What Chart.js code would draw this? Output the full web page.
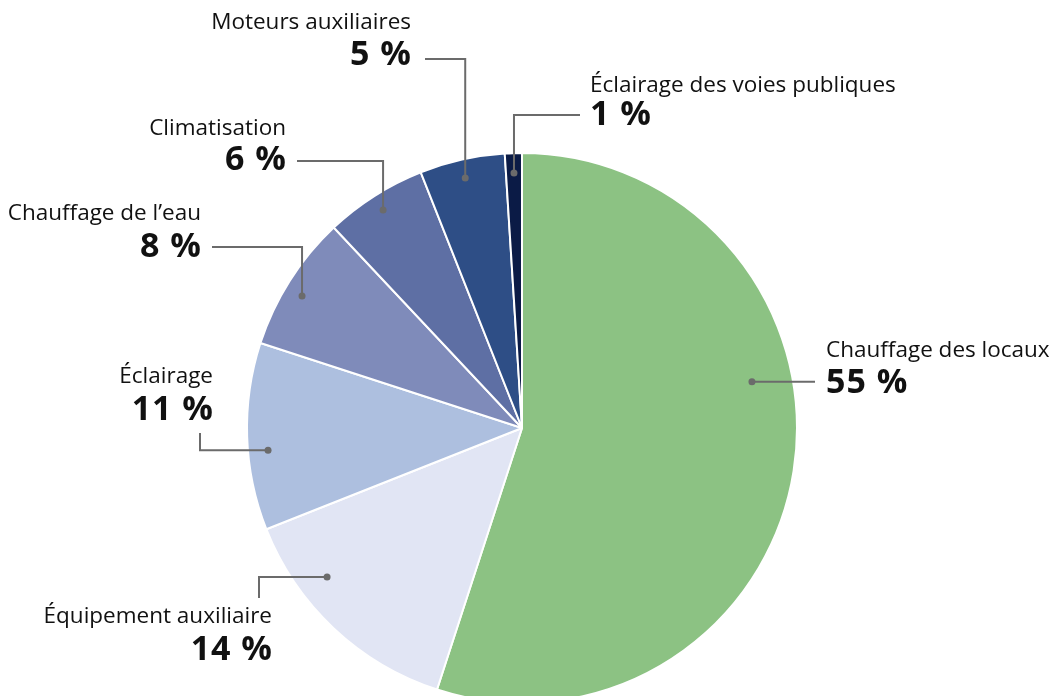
<!DOCTYPE html>
<html lang="fr">
<head>
<meta charset="utf-8">
<script src="https://cdn.jsdelivr.net/npm/chart.js@4/dist/chart.umd.min.js"></script>
<style>
  html, body { margin: 0; padding: 0; background: #ffffff; overflow: hidden; }
  #wrap { width: 1053px; height: 696px; position: relative; }
</style>
</head>
<body>
<div id="wrap"><canvas id="c" width="1053" height="696"></canvas></div>
<script>
// ---- Data ----
const categories = [
  "Chauffage des locaux",
  "Équipement auxiliaire",
  "Éclairage",
  "Chauffage de l\u2019eau",
  "Climatisation",
  "Moteurs auxiliaires",
  "Éclairage des voies publiques"
];
const shares = [55, 14, 11, 8, 6, 5, 1];
const valueLabels = ["55 %", "14 %", "11 %", "8 %", "6 %", "5 %", "1 %"];
const sliceColors = ["#8CC283", "#E1E5F4", "#ADBFDF", "#7F8BBA", "#5E6FA4", "#2E4E86", "#0B1B46"];

// ---- Label layout (annotation styling, not data) ----
const labelLayout = [
  { f: 0.397, rf: 0.853, align: "left",  x: 826, nameBase: 357, valBase: 393, route: "h",  end: [815, null] },
  { f: 0.687, rf: 0.892, align: "right", x: 272, nameBase: 623, valBase: 660, route: "hv", end: [259, 598] },
  { f: 0.419, rf: 0.927, align: "right", x: 213, nameBase: 383, valBase: 420, route: "hv", end: [200, 433] },
  { f: 0.451, rf: 0.933, align: "right", x: 201, nameBase: 220, valBase: 257, route: "vh", end: [212, 247] },
  { f: 0.495, rf: 0.940, align: "right", x: 286, nameBase: 135, valBase: 170, route: "vh", end: [297, 161] },
  { f: 0.489, rf: 0.932, align: "right", x: 411, nameBase: 29,  valBase: 65,  route: "vh", end: [425, 59] },
  { f: 0.500, rf: 0.928, align: "left",  x: 590, nameBase: 92,  valBase: 125, route: "vh", end: [580, 115] }
];

const FONT = "'Open Sans', 'Noto Sans', sans-serif";

const calloutPlugin = {
  id: "callouts",
  afterDatasetsDraw(chart) {
    const ctx = chart.ctx;
    const meta = chart.getDatasetMeta(0);
    ctx.save();
    meta.data.forEach((arc, i) => {
      const L = labelLayout[i];
      const p = arc.getProps(["x", "y", "startAngle", "endAngle", "outerRadius"], true);
      const a = p.startAngle + L.f * (p.endAngle - p.startAngle);
      const r = p.outerRadius * L.rf;
      const dx = p.x + Math.cos(a) * r;
      const dy = p.y + Math.sin(a) * r;

      ctx.strokeStyle = "#6b6b6b";
      ctx.lineWidth = 2;
      ctx.beginPath();
      ctx.moveTo(dx, dy);
      if (L.route === "h") {
        ctx.lineTo(L.end[0], dy);
      } else if (L.route === "vh") {
        ctx.lineTo(dx, L.end[1]);
        ctx.lineTo(L.end[0], L.end[1]);
      } else {
        ctx.lineTo(L.end[0], dy);
        ctx.lineTo(L.end[0], L.end[1]);
      }
      ctx.stroke();
      ctx.fillStyle = "#6b6b6b";
      ctx.beginPath();
      ctx.arc(dx, dy, 3.5, 0, Math.PI * 2);
      ctx.fill();

      ctx.fillStyle = "#111111";
      ctx.textAlign = L.align;
      ctx.textBaseline = "alphabetic";
      ctx.letterSpacing = "0px";
      ctx.font = "400 22.5px " + FONT;
      ctx.fillText(categories[i], L.x, L.nameBase);
      ctx.letterSpacing = "1px";
      ctx.font = "700 34px " + FONT;
      const vx = L.align === "right" ? L.x + 1 : L.x;
      ctx.fillText(valueLabels[i], vx, L.valBase);
    });
    ctx.restore();
  }
};

new Chart(document.getElementById("c"), {
  type: "pie",
  data: {
    labels: categories,
    datasets: [{
      data: shares,
      backgroundColor: sliceColors,
      borderColor: "#ffffff",
      borderWidth: 2,
      clip: false
    }]
  },
  options: {
    responsive: false,
    animation: false,
    radius: 275,
    rotation: 0,
    layout: { padding: { top: 160, bottom: 0, left: 0, right: 9 } },
    plugins: {
      legend: { display: false },
      tooltip: { enabled: false }
    }
  },
  plugins: [calloutPlugin]
});
</script>
</body>
</html>
